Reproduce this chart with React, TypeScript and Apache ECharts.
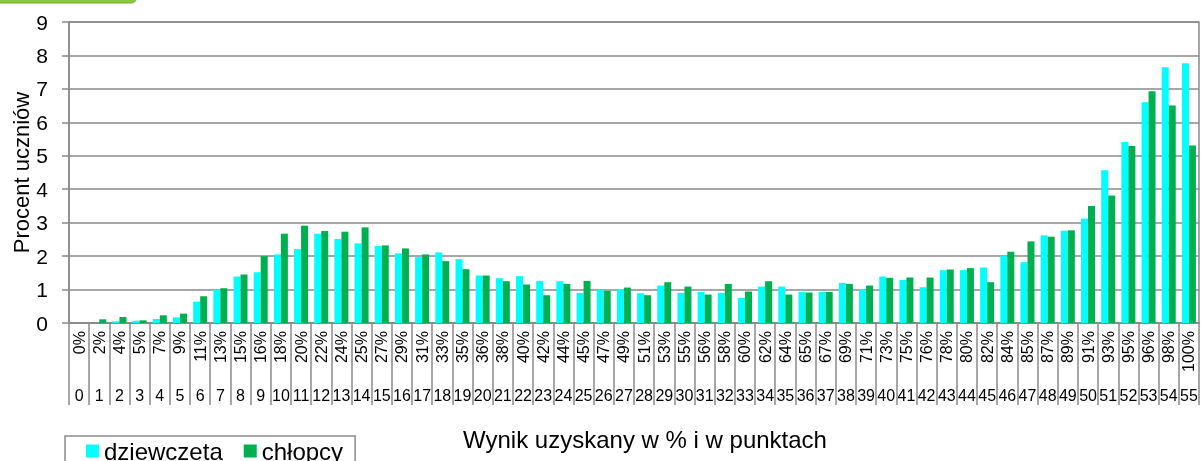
import React, { useEffect, useRef } from "react";
import * as echarts from "echarts";

const points: string[] = [
  "0","1","2","3","4","5","6","7","8","9","10","11","12","13","14","15","16","17","18","19",
  "20","21","22","23","24","25","26","27","28","29","30","31","32","33","34","35","36","37","38","39",
  "40","41","42","43","44","45","46","47","48","49","50","51","52","53","54","55",
];

const percents: string[] = [
  "0%","2%","4%","5%","7%","9%","11%","13%","15%","16%","18%","20%","22%","24%","25%","27%","29%","31%","33%","35%",
  "36%","38%","40%","42%","44%","45%","47%","49%","51%","53%","55%","56%","58%","60%","62%","64%","65%","67%","69%","71%",
  "73%","75%","76%","78%","80%","82%","84%","85%","87%","89%","91%","93%","95%","96%","98%","100%",
];

const dziewczeta: number[] = [
  0, 0, 0.05, 0.07, 0.12, 0.17, 0.64, 1.0, 1.39, 1.52,
  2.05, 2.21, 2.67, 2.51, 2.38, 2.3, 2.08, 1.97, 2.11, 1.91,
  1.42, 1.34, 1.4, 1.26, 1.25, 0.9, 0.99, 1.01, 0.89, 1.12,
  0.9, 0.93, 0.9, 0.75, 1.09, 1.09, 0.93, 0.93, 1.2, 1.0,
  1.39, 1.29, 1.07, 1.58, 1.58, 1.66, 2.0, 1.82, 2.62, 2.76,
  3.12, 4.57, 5.41, 6.6, 7.65, 7.77,
];

const chlopcy: number[] = [
  0, 0.11, 0.18, 0.08, 0.23, 0.28, 0.8, 1.04, 1.45, 2.0,
  2.67, 2.91, 2.75, 2.73, 2.86, 2.32, 2.23, 2.05, 1.85, 1.61,
  1.42, 1.25, 1.15, 0.83, 1.17, 1.26, 0.96, 1.06, 0.83, 1.22,
  1.09, 0.85, 1.17, 0.94, 1.25, 0.85, 0.91, 0.93, 1.17, 1.12,
  1.35, 1.36, 1.36, 1.6, 1.64, 1.22, 2.13, 2.44, 2.58, 2.77,
  3.5, 3.81, 5.29, 6.93, 6.5, 5.31,
];

const seriesNames = ["dziewczeta", "chłopcy"];
const yTicks = { min: 0, max: 9, interval: 1 };
const xTitle = "Wynik uzyskany w % i w punktach";
const yTitle = "Procent uczniów";

const FONT = "'Liberation Sans', Arial, sans-serif";
const GRAY = "#8a8a8a";

export default function App() {
  const ref = useRef<HTMLDivElement>(null);
  useEffect(() => {
    if (!ref.current) return;
    const chart = echarts.init(ref.current, null, { renderer: "svg" });
    chart.setOption({
      animation: false,
      textStyle: { fontFamily: FONT },
      grid: {
        left: 69,
        right: 2,
        top: 22,
        bottom: 138,
        show: true,
        borderColor: GRAY,
        borderWidth: 1.5,
        containLabel: false,
        outerBoundsMode: "none",
      },
      legend: {
        left: 65,
        top: 436,
        data: seriesNames,
        icon: "rect",
        itemWidth: 13,
        itemHeight: 13,
        itemGap: 21,
        padding: [3, 12, 6, 21],
        borderColor: GRAY,
        borderWidth: 1.5,
        textStyle: { fontSize: 24, color: "#000", fontFamily: FONT },
      },
      graphic: [
        {
          type: "rect",
          shape: { x: -10, y: -20, width: 147, height: 23, r: 6 },
          style: { fill: "#8dc63f", stroke: "#6fae3a", lineWidth: 1 },
        },
        {
          type: "text",
          x: 645,
          y: 439,
          style: {
            text: xTitle,
            fontSize: 24,
            fontFamily: FONT,
            fill: "#000",
            align: "center",
            verticalAlign: "middle",
          },
        },
      ],
      xAxis: [
        {
          type: "category",
          data: percents,
          position: "bottom",
          boundaryGap: true,
          axisLine: { show: true, lineStyle: { color: GRAY, width: 1.5 } },
          axisTick: {
            show: true,
            interval: 0,
            alignWithLabel: false,
            length: 82,
            lineStyle: { color: GRAY, width: 1.5 },
          },
          axisLabel: {
            interval: 0,
            rotate: 90,
            margin: 8,
            fontSize: 16,
            color: "#000",
            fontFamily: FONT,
          },
        },
        {
          type: "category",
          data: points,
          position: "bottom",
          boundaryGap: true,
          axisLine: { show: false },
          axisTick: { show: false },
          axisLabel: {
            interval: 0,
            margin: 64,
            fontSize: 16,
            color: "#000",
            fontFamily: FONT,
          },
        },
      ],
      yAxis: {
        type: "value",
        min: yTicks.min,
        max: yTicks.max,
        interval: yTicks.interval,
        name: yTitle,
        nameLocation: "middle",
        nameGap: 37,
        nameMoveOverlap: false,
        nameTextStyle: { fontSize: 22, color: "#000", fontFamily: FONT },
        axisLine: { show: true, lineStyle: { color: GRAY, width: 1.5 } },
        axisTick: { show: true, length: 7, lineStyle: { color: GRAY, width: 1.5 } },
        axisLabel: { fontSize: 21, color: "#000", margin: 21, fontFamily: FONT },
        splitLine: { show: true, lineStyle: { color: GRAY, width: 1.5 } },
      },
      series: [
        {
          name: seriesNames[0],
          type: "bar",
          data: dziewczeta,
          barWidth: 7,
          barGap: "0%",
          itemStyle: { color: "#00FFFF" },
        },
        {
          name: seriesNames[1],
          type: "bar",
          data: chlopcy,
          barWidth: 7,
          barGap: "0%",
          itemStyle: { color: "#00B050" },
        },
      ],
    });
    return () => chart.dispose();
  }, []);
  return (
    <div
      ref={ref}
      style={{ position: "fixed", left: 0, top: 0, width: 1201, height: 461 }}
    />
  );
}
